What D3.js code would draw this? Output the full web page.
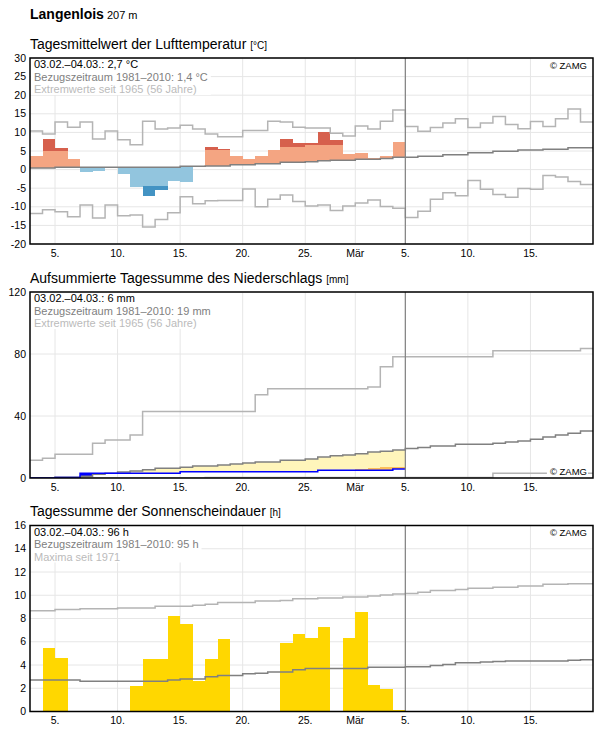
<!DOCTYPE html>
<html>
<head>
<meta charset="utf-8">
<script src="https://cdn.jsdelivr.net/npm/d3@7"></script>
<style>
  body { margin: 0; background: #fff; font-family: "Liberation Sans", Arial, sans-serif; }
</style>
</head>
<body>
<div id="chart"></div>
<script>
// Days start 03.02.2021, index 0 = 3 Feb; observed values run to 04.03., reference lines to 19.03.
const tickLabels = ["5.", "10.", "15.", "20.", "25.", "Mär", "5.", "10.", "15."];
const tickDays = [[1, 5], [1, 10], [1, 15], [1, 20], [1, 25], [2, 1], [2, 5], [2, 10], [2, 15]];

// Temperature [°C]
const tempObs = [3.7, 8.3, 5.8, 2.9, -0.7, -0.5, 0.6, -1.1, -4.8, -7.2, -5.5, -3.1, -3.4, 0.9, 6.2,
  5.6, 3.7, 2.9, 3.7, 5.4, 8.3, 7.2, 7.2, 10.2, 8.0, 4.3, 4.5, 3.2, 3.7, 7.5];
const tempUpper = [4.9, 5.1, 5.1, 5.1, 5.1, 5.1, 5.1, 5.1, 5.1, 5.1, 5.1, 5.1, 5.3, 5.3, 5.4,
  5.4, 5.7, 5.7, 6.0, 6.0, 6.2, 6.2, 6.5, 6.7, 6.7, 6.9, 7.1, 7.1, 7.3, 7.6];
const tempLower = [-4.7, -4.7, -4.5, -4.5, -4.5, -4.5, -4.5, -4.5, -4.6, -4.3, -4.3, -4.3, -4.0, -4.0, -3.9,
  -3.9, -3.6, -3.6, -3.3, -3.3, -2.9, -2.9, -2.7, -2.5, -2.4, -2.4, -2.1, -2.1, -1.9, -1.6];
const tempNormal = [0.4, 0.4, 0.6, 0.6, 0.6, 0.6, 0.6, 0.6, 0.6, 0.6, 0.6, 0.6, 0.9, 0.9, 1.0,
  1.0, 1.3, 1.3, 1.6, 1.6, 2.0, 2.0, 2.1, 2.4, 2.5, 2.5, 2.8, 2.8, 3.0, 3.3,
  3.3, 3.6, 3.6, 4.0, 4.0, 4.5, 4.5, 4.9, 4.9, 5.3, 5.3, 5.5, 5.5, 5.9, 5.9];
const tempMax = [10.4, 9.6, 12.8, 11.4, 12.8, 8.2, 10.4, 8.0, 6.7, 13.0, 10.9, 11.2, 11.9, 10.9, 9.6,
  8.8, 8.8, 10.5, 10.5, 13.0, 12.8, 11.4, 11.2, 11.2, 9.8, 9.0, 11.7, 10.9, 13.0, 16.0,
  11.6, 10.3, 11.3, 12.5, 13.7, 11.3, 12.5, 14.3, 12.1, 11.0, 12.9, 11.6, 13.7, 16.3, 12.8];
const tempMin = [-11.8, -10.8, -11.3, -12.7, -9.5, -13.0, -9.5, -12.4, -12.2, -15.4, -13.4, -11.6, -7.3, -9.2, -8.4,
  -8.3, -8.3, -5.2, -10.0, -8.0, -6.8, -8.6, -9.8, -9.5, -11.0, -9.8, -9.0, -8.2, -9.9, -10.4,
  -12.9, -11.2, -8.0, -6.2, -7.0, -2.9, -5.3, -6.7, -7.4, -5.1, -5.3, -1.6, -2.0, -3.2, -4.0];

// Precipitation, accumulated [mm]
const precipObs = [0, 0, 0.3, 0.3, 3.0, 3.0, 3.0, 3.0, 3.0, 3.0, 3.0, 3.0, 4.1, 4.1, 4.1,
  4.1, 4.1, 4.1, 4.1, 4.1, 4.1, 4.1, 4.1, 5.0, 5.0, 5.0, 5.0, 5.0, 5.0, 5.8];
const precipDry = [0, 0, 0.1, 0.1, 0.3, 0.6, 0.8, 1.1, 1.3, 1.6, 1.9, 1.9, 2.1, 2.4, 2.4,
  2.6, 2.8, 3.0, 3.2, 3.2, 3.5, 3.5, 3.9, 4.3, 4.6, 4.9, 5.8, 6.5, 7.3, 7.3];
const precipNormal = [0.2, 0.2, 0.5, 0.5, 1.1, 2.4, 3.0, 3.9, 4.5, 5.4, 6.3, 6.3, 6.9, 7.8, 7.8,
  8.4, 9.1, 9.7, 10.4, 10.4, 11.4, 11.4, 12.3, 13.6, 14.3, 14.9, 15.6, 16.7, 17.3, 18.0,
  19.0, 19.6, 20.7, 20.7, 21.7, 21.7, 21.7, 22.4, 23.2, 23.9, 25.0, 26.5, 27.8, 28.9, 30.4];
const precipMax = [11.5, 12.8, 15.4, 15.4, 15.4, 22.5, 24.5, 24.5, 27.7, 42.9, 42.9, 42.9, 42.9, 42.9, 42.9,
  42.9, 42.9, 42.9, 53.7, 57.6, 57.6, 57.6, 57.6, 57.6, 57.6, 57.6, 57.6, 58.7, 71.7, 78.2,
  78.2, 78.2, 78.2, 78.2, 78.2, 78.2, 78.2, 82.1, 82.1, 82.1, 82.1, 82.1, 82.1, 82.1, 83.6];
const precipMin = [0, 0, 0, 0, 0, 0, 0, 0, 0, 0, 0, 0, 0, 0, 0.3,
  0.3, 0.3, 0.3, 0.3, 0.3, 0.3, 0.3, 0.3, 0.3, 0.3, 0.3, 0.3, 0.3, 0.3, 0.3,
  0.3, 0.3, 0.3, 0.3, 0.3, 0.3, 0.3, 3.0, 3.0, 3.0, 3.0, 3.0, 3.0, 3.0, 3.0];

// Sunshine duration [h]
const sunObs = [0, 5.5, 4.6, 0, 0, 0, 0, 0, 2.2, 4.5, 4.5, 8.2, 7.5, 2.6, 4.5,
  6.2, 0, 0, 0, 0, 5.9, 6.7, 6.3, 7.3, 0, 6.3, 8.6, 2.3, 1.9, 0.1];
const sunNormal = [2.7, 2.7, 2.7, 2.7, 2.6, 2.6, 2.6, 2.6, 2.6, 2.6, 2.6, 2.7, 2.8, 2.8, 3.0,
  3.1, 3.1, 3.25, 3.3, 3.4, 3.4, 3.6, 3.7, 3.7, 3.7, 3.7, 3.7, 3.8, 3.8, 3.8,
  3.85, 3.85, 3.95, 4.05, 4.2, 4.2, 4.25, 4.3, 4.35, 4.35, 4.35, 4.35, 4.35, 4.4, 4.45];
const sunMax = [8.66, 8.66, 8.77, 8.77, 8.83, 8.83, 8.83, 8.9, 8.9, 8.9, 9.06, 9.06, 9.06, 9.14, 9.23,
  9.37, 9.37, 9.37, 9.5, 9.5, 9.55, 9.69, 9.69, 9.77, 9.77, 9.86, 9.86, 9.94, 10.03, 10.11,
  10.16, 10.25, 10.4, 10.4, 10.5, 10.6, 10.6, 10.68, 10.68, 10.8, 10.8, 10.94, 10.94, 11.0, 11.0];

const width = 596, height = 729;
const left = 30, right = 593, plotH = 186;
const startDate = new Date(2021, 1, 3);
const endDate = new Date(2021, 2, 20);
const todayDate = new Date(2021, 2, 5);
const dayDate = i => d3.timeDay.offset(startDate, i);

const x = d3.scaleTime().domain([startDate, endDate]).range([left, right]);

const svg = d3.select("#chart").append("svg")
    .attr("width", width)
    .attr("height", height)
    .style("display", "block");

// Station header
const header = svg.append("text")
    .attr("x", 30)
    .attr("y", 19)
    .style("font-size", "14px")
    .style("font-weight", "bold")
    .text("Langenlois");
header.append("tspan")
    .style("font-size", "11px")
    .style("font-weight", "normal")
    .text(" 207 m");

drawPanel({
    id: "temp", top: 58, domain: [-20, 30], ticks: d3.range(-20, 31, 5),
    title: "Tagesmittelwert der Lufttemperatur", unit: "[°C]",
    info: ["03.02.–04.03.: 2,7 °C", "Bezugszeitraum 1981–2010: 1,4 °C", "Extremwerte seit 1965 (56 Jahre)"],
    zamgBottom: false,
    marks: (g, y) => {
        tempObs.forEach((v, i) => {
            const n = tempNormal[i];
            const parts = [];
            if (v >= n) {
                parts.push([n, Math.min(v, tempUpper[i]), "#f4a582"]);
                if (v > tempUpper[i]) parts.push([tempUpper[i], v, "#d6604d"]);
            } else {
                parts.push([n, Math.max(v, tempLower[i]), "#92c5de"]);
                if (v < tempLower[i]) parts.push([tempLower[i], v, "#4393c3"]);
            }
            parts.forEach(([a, b, c]) => {
                g.append("rect")
                    .attr("x", x(dayDate(i)))
                    .attr("width", x(dayDate(i + 1)) - x(dayDate(i)))
                    .attr("y", y(Math.max(a, b)))
                    .attr("height", Math.abs(y(a) - y(b)))
                    .attr("fill", c)
                    .attr("shape-rendering", "crispEdges");
            });
        });
        stepLine(g, y, tempMax, "#b4b4b4");
        stepLine(g, y, tempMin, "#b4b4b4");
        stepLine(g, y, tempNormal, "#808080");
    }
});

drawPanel({
    id: "precip", top: 292, domain: [0, 120], ticks: [0, 40, 80, 120],
    title: "Aufsummierte Tagessumme des Niederschlags", unit: "[mm]",
    info: ["03.02.–04.03.: 6 mm", "Bezugszeitraum 1981–2010: 19 mm", "Extremwerte seit 1965 (56 Jahre)"],
    zamgBottom: true,
    marks: (g, y) => {
        precipObs.forEach((v, i) => {
            const n = precipNormal[i];
            const x0 = x(dayDate(i)), w = x(dayDate(i + 1)) - x0;
            const parts = [];
            if (n > v) parts.push([v, n, "#fff5bb"]);
            if (v > n) parts.push([n, v, "#0000ff"]);
            if (precipDry[i] > v) parts.push([v, precipDry[i], "#fdbe5a"]);
            parts.forEach(([a, b, c]) => {
                g.append("rect")
                    .attr("x", x0).attr("width", w)
                    .attr("y", y(b)).attr("height", y(a) - y(b))
                    .attr("fill", c)
                    .attr("shape-rendering", "crispEdges");
            });
        });
        stepLine(g, y, precipMax, "#b4b4b4");
        stepLine(g, y, precipMin, "#b4b4b4");
        stepLine(g, y, precipNormal, "#808080");
        stepLine(g, y, precipObs, "#0000ff");
    }
});

drawPanel({
    id: "sun", top: 525.5, domain: [0, 16], ticks: d3.range(0, 17, 2),
    title: "Tagessumme der Sonnenscheindauer", unit: "[h]",
    info: ["03.02.–04.03.: 96 h", "Bezugszeitraum 1981–2010: 95 h", "Maxima seit 1971"],
    zamgBottom: false,
    marks: (g, y) => {
        g.selectAll(".sunbar")
            .data(sunObs)
            .enter().append("rect")
            .attr("class", "sunbar")
            .attr("x", (d, i) => x(dayDate(i)))
            .attr("width", (d, i) => x(dayDate(i + 1)) - x(dayDate(i)))
            .attr("y", d => y(d))
            .attr("height", d => y(0) - y(d))
            .attr("fill", "#ffd700")
            .attr("shape-rendering", "crispEdges");
        stepLine(g, y, sunMax, "#b4b4b4");
        stepLine(g, y, sunNormal, "#808080");
    }
});

//Helper Functions

function stepLine(g, y, values, color) {
    const pts = values.map((v, i) => [dayDate(i), v]);
    pts.push([dayDate(values.length), values[values.length - 1]]);
    const line = d3.line()
        .x(d => x(d[0]))
        .y(d => y(d[1]))
        .curve(d3.curveStepAfter);
    g.append("path")
        .attr("d", line(pts))
        .attr("fill", "none")
        .attr("stroke", color)
        .attr("stroke-width", 1.5);
}

function drawPanel(p) {
    const top = p.top, bottom = p.top + plotH;
    const y = d3.scaleLinear().domain(p.domain).range([bottom, top]);

    const title = svg.append("text")
        .attr("x", 30)
        .attr("y", top - 9.5)
        .style("font-size", "14px")
        .text(p.title + " ");
    title.append("tspan")
        .style("font-size", "10px")
        .text(p.unit);

    svg.append("clipPath").attr("id", "clip-" + p.id)
        .append("rect")
        .attr("x", left).attr("y", top)
        .attr("width", right - left).attr("height", plotH);

    // grid
    const grid = svg.append("g");
    grid.selectAll(".hg").data(p.ticks).enter().append("line")
        .attr("x1", left).attr("x2", right)
        .attr("y1", d => y(d)).attr("y2", d => y(d))
        .attr("stroke", "#e6e6e6").attr("stroke-width", 1);
    const tickDates = tickDays.map(([m, d]) => new Date(2021, m, d));
    grid.selectAll(".vg").data(tickDates).enter().append("line")
        .attr("x1", d => x(d)).attr("x2", d => x(d))
        .attr("y1", top).attr("y2", bottom)
        .attr("stroke", "#e6e6e6").attr("stroke-width", 1);

    const g = svg.append("g").attr("clip-path", `url(#clip-${p.id})`);
    p.marks(g, y);

    // today line
    svg.append("line")
        .attr("x1", x(todayDate)).attr("x2", x(todayDate))
        .attr("y1", top).attr("y2", bottom)
        .attr("stroke", "#808080").attr("stroke-width", 1.2);

    // y tick labels
    svg.append("g").selectAll("text").data(p.ticks).enter().append("text")
        .attr("x", 26)
        .attr("y", d => y(d))
        .attr("dy", "0.35em")
        .attr("text-anchor", "end")
        .style("font-size", "10.5px")
        .text(d => d);

    // x tick labels
    svg.append("g").selectAll("text").data(tickDates).enter().append("text")
        .attr("x", d => x(d))
        .attr("y", bottom + 12.5)
        .attr("text-anchor", "middle")
        .style("font-size", "10.5px")
        .text((d, i) => tickLabels[i]);

    // info block with white background
    const infoBox = svg.append("rect").attr("fill", "#fff");
    const colors = ["#000", "#808080", "#bbbbbb"];
    let maxW = 0;
    p.info.forEach((t, i) => {
        const txt = svg.append("text")
            .attr("x", left + 4)
            .attr("y", top + 10 + i * 12.5)
            .style("font-size", "11px")
            .attr("fill", colors[i])
            .text(t);
        maxW = Math.max(maxW, txt.node().getComputedTextLength());
    });
    infoBox.attr("x", left + 1).attr("y", top + 1)
        .attr("width", maxW + 6).attr("height", 36);

    // copyright
    const zy = p.zamgBottom ? bottom - 3 : top + 10.5;
    const zamg = svg.append("text")
        .attr("x", right - 6)
        .attr("y", zy)
        .attr("text-anchor", "end")
        .style("font-size", "9.5px")
        .text("© ZAMG");
    const bb = zamg.node().getBBox();
    svg.insert("rect", function () { return zamg.node(); })
        .attr("x", bb.x - 3).attr("y", bb.y)
        .attr("width", bb.width + 4).attr("height", bb.height)
        .attr("fill", "#fff");

    // frame
    svg.append("rect")
        .attr("x", left).attr("y", top)
        .attr("width", right - left).attr("height", plotH)
        .attr("fill", "none")
        .attr("stroke", "#000")
        .attr("stroke-width", 1.5);
}
</script>
</body>
</html>
